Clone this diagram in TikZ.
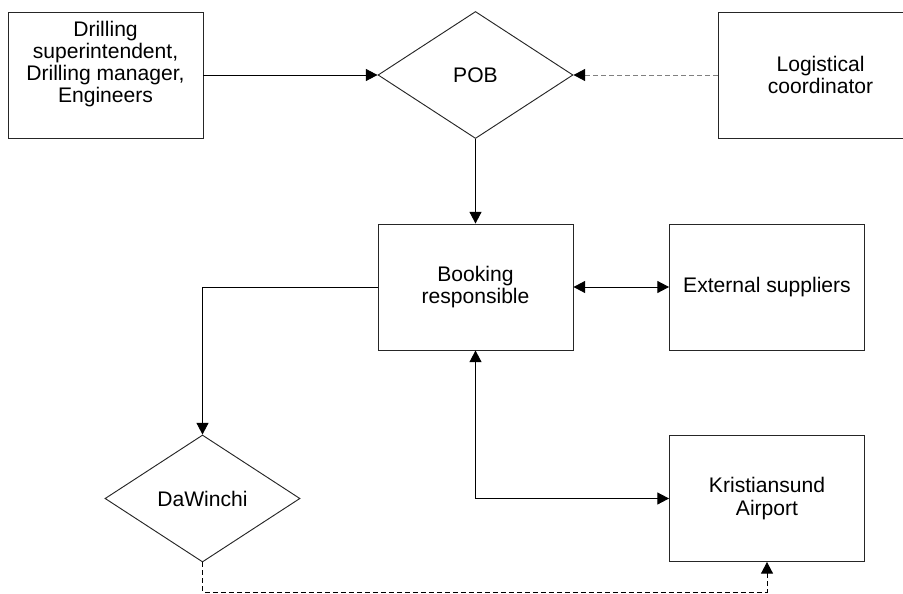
\documentclass[tikz,border=0pt]{standalone}
\usepackage{fontspec}
\setmainfont{Liberation Sans}
\usetikzlibrary{shapes.geometric,arrows.meta}

\begin{document}
\begin{tikzpicture}[x=0.03cm,y=-0.03cm,
  font=\fontsize{18}{18.9}\selectfont,
  >={Triangle[length=0.35cm,width=0.36cm,color=black]},
  every node/.style={align=center, text=black},
  every label/.style={align=center, text=black},
  boxnode/.style={draw=black!85, line width=0.8pt, rectangle,
    minimum width=5.85cm, minimum height=3.78cm, inner sep=0pt},
  decide/.style={draw=black!85, line width=0.8pt, diamond,
    minimum width=5.85cm, minimum height=3.81cm, inner sep=0pt},
  link/.style={line width=0.8pt, ->},
  twoway/.style={line width=0.8pt, <->},
  softlink/.style={link, draw=black!50, dash pattern=on 0.15cm off 0.09cm},
  hardlink/.style={link, dash pattern=on 0.15cm off 0.09cm}]

\useasboundingbox (0,0) rectangle (903,594);

% boxes and decision points
\node[boxnode, label={[yshift=0.33cm]center:Drilling\\superintendent,\\Drilling manager,\\Engineers}]
  (drill) at (105.5,75) {};
\node[decide]  (pob)   at (475.5,75) {POB};
\node[boxnode, minimum width=6.15cm] (logi) at (820.5,75) {Logistical\\coordinator};
\node[boxnode] (book)  at (475.5,287) {Booking\\responsible};
\node[boxnode] (ext)   at (767,287) {External suppliers};
\node[decide]  (daw)   at (202.5,498.5) {DaWinchi};
\node[boxnode] (kris)  at (767,498.5) {Kristiansund\\Airport};
\coordinate (dbot) at (202.5,592);

% connectors
\draw[link] (drill.east) -- (drill.east -| pob.west);
\draw[softlink] (logi.west) -- (logi.west -| pob.east);
\draw[link] (pob.south) -- (book.north);
\draw[twoway] (book.east) -- (ext.west);
\draw[link] (book.west) -| (daw.north);
\draw[twoway] (book.south) |- (kris.west);
\draw[hardlink] (daw.south) -- (dbot) -| (kris.south);
\end{tikzpicture}
\end{document}
